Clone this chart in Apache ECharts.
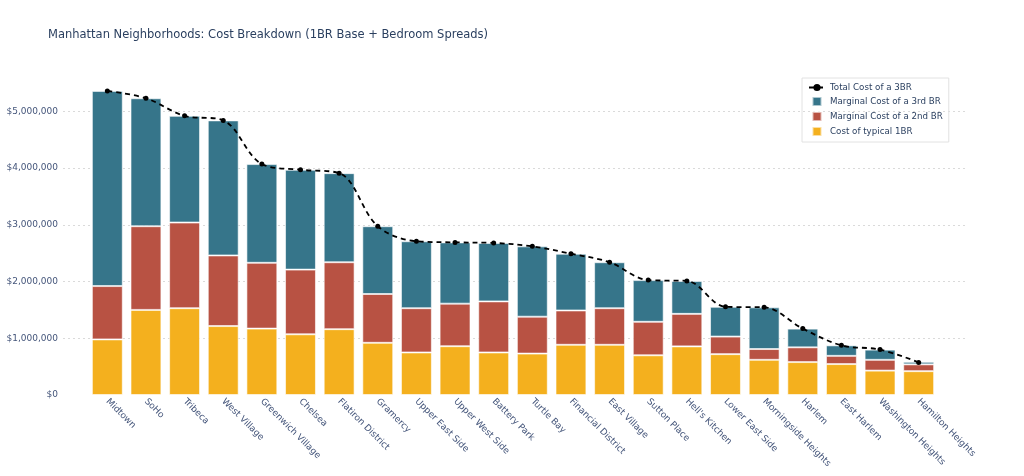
<!DOCTYPE html>
<html>
<head>
    <meta charset="utf-8">
    <title>ECharts</title>
    <script src="https://cdn.jsdelivr.net/npm/echarts@6/dist/echarts.min.js"></script>
    <style>
      body { margin: 0; background: #fff; }
    </style>
</head>
<body>
    <div id="main" style="width: 1024px;height:476px;"></div>
    <script type="text/javascript">
      // neighborhoods, sorted by total 3BR cost
      var neighborhoods = ['Midtown', 'SoHo', 'Tribeca', 'West Village', 'Greenwich Village', 'Chelsea',
        'Flatiron District', 'Gramercy', 'Upper East Side', 'Upper West Side', 'Battery Park', 'Turtle Bay',
        'Financial District', 'East Village', 'Sutton Place', "Hell's Kitchen", 'Lower East Side',
        'Morningside Heights', 'Harlem', 'East Harlem', 'Washington Heights', 'Hamilton Heights'];

      // cost of typical 1BR
      var cost1BR = [980000, 1500000, 1530000, 1215000, 1170000, 1070000, 1160000, 920000, 750000, 860000,
        750000, 730000, 885000, 885000, 700000, 857000, 720000, 620000, 580000, 545000, 430000, 420000];
      // extra going from 1BR to 2BR
      var marginal2nd = [940000, 1475000, 1510000, 1245000, 1160000, 1140000, 1180000, 860000, 780000, 750000,
        900000, 650000, 605000, 645000, 590000, 573000, 310000, 190000, 260000, 145000, 190000, 120000];
      // extra going from 2BR to 3BR
      var marginal3rd = [3440000, 2255000, 1880000, 2380000, 1740000, 1760000, 1570000, 1195000, 1180000, 1080000,
        1030000, 1240000, 1000000, 810000, 735000, 580000, 525000, 735000, 330000, 185000, 180000, 45000];
      // total cost of a 3BR (dots on the dashed line)
      var total3BR = [5360000, 5230000, 4920000, 4840000, 4070000, 3970000, 3910000, 2975000, 2710000, 2690000,
        2680000, 2620000, 2490000, 2340000, 2025000, 2010000, 1555000, 1545000, 1170000, 875000, 800000, 575000];

      var yTicks = [0, 1000000, 2000000, 3000000, 4000000, 5000000];
      var yMax = 5640000;

      var textColor = '#2a3f5f';
      var tickColor = '#44557a';
      var font = 'DejaVu Sans';
      var square = 'path://M0,0h10v10h-10z';

      function money(v) {
        return '$' + v.toString().replace(/\B(?=(\d{3})+(?!\d))/g, ',');
      }

      var myChart = echarts.init(document.getElementById('main'));
      var option = {
        animation: false,
        title: {
          text: 'Manhattan Neighborhoods: Cost Breakdown (1BR Base + Bedroom Spreads)',
          left: 43,
          top: 24,
          textStyle: { fontFamily: font, fontSize: 11.5, fontWeight: 'normal', color: textColor }
        },
        legend: {
          orient: 'vertical',
          left: 802,
          top: 78,
          padding: [5, 6, 5, 6],
          itemGap: 4,
          itemWidth: 16,
          itemHeight: 9,
          borderColor: '#e2e2e2',
          borderWidth: 1,
          textStyle: { fontFamily: font, fontSize: 8.7, color: textColor },
          data: [
            { name: 'Total Cost of a 3BR' },
            { name: 'Marginal Cost of a 3rd BR', icon: square },
            { name: 'Marginal Cost of a 2nd BR', icon: square },
            { name: 'Cost of typical 1BR', icon: square }
          ]
        },
        // grid 0 holds the bars, grid 1 only draws the wider dotted gridlines behind them
        grid: [
          { left: 88, right: 86, top: 75, bottom: 81 },
          { left: 63, right: 57, top: 75, bottom: 81 }
        ],
        xAxis: [
          {
            type: 'category',
            data: neighborhoods,
            axisLine: { show: false },
            axisTick: { show: false },
            axisLabel: {
              rotate: -45,
              margin: 5,
              interval: 0,
              fontFamily: font,
              fontSize: 9,
              color: tickColor
            }
          },
          { gridIndex: 1, type: 'value', min: 0, max: 1, show: false }
        ],
        yAxis: [
          {
            type: 'value',
            min: 0,
            max: yMax,
            interval: 1000000,
            axisLine: { show: false },
            axisTick: { show: false },
            splitLine: { show: false },
            axisLabel: {
              margin: 30,
              showMaxLabel: false,
              fontFamily: font,
              fontSize: 9,
              color: tickColor,
              formatter: function (v) { return yTicks.indexOf(v) >= 0 ? money(v) : ''; }
            }
          },
          {
            gridIndex: 1,
            type: 'value',
            min: 0,
            max: yMax,
            interval: 1000000,
            axisLine: { show: false },
            axisTick: { show: false },
            axisLabel: { show: false },
            splitLine: {
              showMinLine: false,
              showMaxLine: false,
              lineStyle: { color: '#dadada', type: [2, 3], width: 1 }
            }
          }
        ],
        series: [
          {
            name: 'Cost of typical 1BR',
            type: 'bar',
            stack: 'cost',
            barWidth: '80%',
            data: cost1BR,
            itemStyle: { color: '#f4b01e', borderColor: 'rgba(255,255,255,0.6)', borderWidth: 1 }
          },
          {
            name: 'Marginal Cost of a 2nd BR',
            type: 'bar',
            stack: 'cost',
            data: marginal2nd,
            itemStyle: { color: '#b85243', borderColor: 'rgba(255,255,255,0.6)', borderWidth: 1 }
          },
          {
            name: 'Marginal Cost of a 3rd BR',
            type: 'bar',
            stack: 'cost',
            data: marginal3rd,
            itemStyle: { color: '#36758a', borderColor: 'rgba(255,255,255,0.6)', borderWidth: 1 }
          },
          {
            name: 'Total Cost of a 3BR',
            type: 'line',
            data: total3BR,
            smooth: 0.35,
            symbol: 'circle',
            symbolSize: 5,
            z: 5,
            itemStyle: { color: '#000' },
            lineStyle: { color: '#000', width: 1.8, type: [5, 4] }
          }
        ]
      };
      myChart.setOption(option);
    </script>
</body>
</html>
